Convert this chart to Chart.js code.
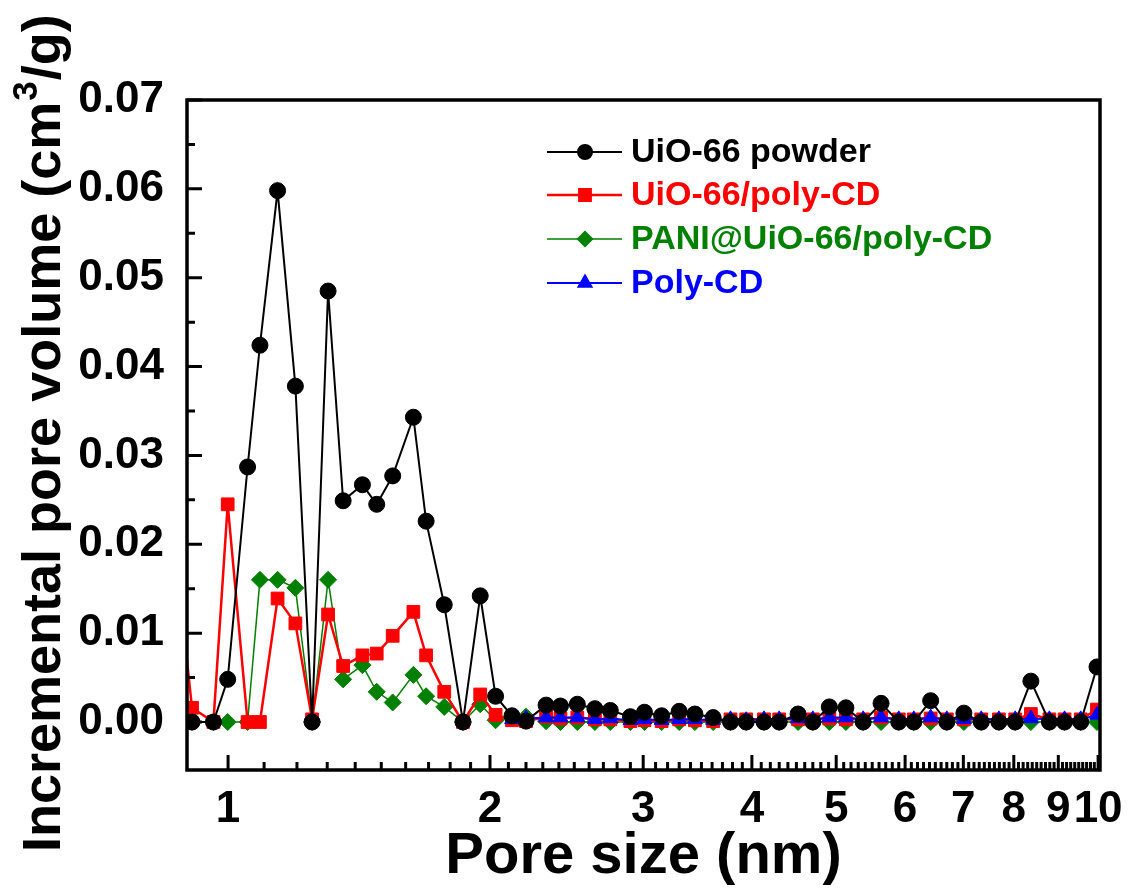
<!DOCTYPE html>
<html>
<head>
<meta charset="utf-8">
<script src="https://cdn.jsdelivr.net/npm/chart.js@4.4.1/dist/chart.umd.min.js"></script>
<style>
  html, body { margin: 0; padding: 0; background: #fff; }
  canvas { display: block; }
</style>
</head>
<body>
<canvas id="psd" width="1129" height="892"></canvas>
<script>
// pore size bins (nm)
const poreSize = [
  0.87, 0.909, 0.962, 0.999, 1.053, 1.088, 1.14, 1.195, 1.249, 1.303,
  1.356, 1.427, 1.482, 1.546, 1.633, 1.689, 1.772, 1.862, 1.949, 2.03,
  2.12, 2.2, 2.32, 2.41, 2.52, 2.64, 2.75, 2.9, 3.01, 3.15,
  3.3, 3.44, 3.61, 3.78, 3.94, 4.13, 4.3, 4.52, 4.7, 4.91,
  5.13, 5.37, 5.63, 5.9, 6.14, 6.42, 6.7, 7.01, 7.34, 7.69,
  8.03, 8.37, 8.79, 9.15, 9.55, 9.97
];

// incremental pore volume (cm3/g)
const uio66Powder = [
  null, 0, 0, 0.0048, 0.0287, 0.0424, 0.0598, 0.0378, 0, 0.0485,
  0.0249, 0.0267, 0.0245, 0.0277, 0.0343, 0.0226, 0.0132, 0, 0.0142, 0.0029,
  0.0007, 0.0001, 0.0019, 0.0018, 0.0020, 0.0015, 0.0013, 0.0006, 0.0011, 0.0007,
  0.0012, 0.0009, 0.0005, 0, 0, 0, 0, 0.0009, 0, 0.0017,
  0.0016, 0, 0.0021, 0, 0, 0.0024, 0, 0.0010, 0, 0,
  0, 0.0046, 0, 0, 0, 0.0062
];
const uio66PolyCD = [
  0.019, 0.0016, 0, 0.0245, 0, 0, 0.0139, 0.0111, 0.0003, 0.0121,
  0.0063, 0.0075, 0.0077, 0.0097, 0.0124, 0.0075, 0.0034, 0, 0.0031, 0.0008,
  0.0002, 0.0001, 0.0006, 0.0004, 0.0005, 0.0003, 0.0003, 0.0001, 0.0002, 0.0001,
  0.0003, 0.0002, 0.0001, 0.0003, 0.0003, 0.0003, 0.0003, 0.0003, 0.0003, 0.0004,
  0.0003, 0.0003, 0.0005, 0.0003, 0.0003, 0.0004, 0.0003, 0.0003, 0.0003, 0.0003,
  0.0003, 0.0009, 0.0003, 0.0003, 0.0003, 0.0014
];
const paniUio66PolyCD = [
  null, 0, 0, 0, 0, 0.0160, 0.0160, 0.0151, 0, 0.0160,
  0.0048, 0.0064, 0.0034, 0.0022, 0.0053, 0.0029, 0.0017, 0, 0.0020, 0.0002,
  0.0005, 0.0006, 0.0001, 0, 0, 0, 0, 0, 0, 0,
  0, 0, 0, 0, 0, 0, 0, 0, 0, 0,
  0, 0, 0, 0, 0, 0, 0, 0, 0, 0,
  0, 0, 0, 0, 0, 0
];
const polyCD = [
  null, null, null, null, null, null, null, null, null, null,
  null, null, null, null, null, null, null, null, null, null,
  0.0003, 0.0004, 0.0005, 0.0005, 0.0005, 0.0003, 0.0004, 0.0002, 0.0003, 0.0002,
  0.0003, 0.0003, 0.0002, 0.0003, 0.0002, 0.0003, 0.0003, 0.0004, 0.0003, 0.0005,
  0.0005, 0.0003, 0.0005, 0.0003, 0.0003, 0.0005, 0.0003, 0.0003, 0.0003, 0.0003,
  0.0003, 0.0004, 0.0003, 0.0003, 0.0003, 0.0008
];

const xTicks = [1, 2, 3, 4, 5, 6, 7, 8, 9, 10];
const yTicks = [0, 0.01, 0.02, 0.03, 0.04, 0.05, 0.06, 0.07];

const FONT = "'Liberation Sans', Arial, sans-serif";

function toPoints(ys) {
  return poreSize.map((x, i) => ({ x: x, y: ys[i] })).filter(p => p.y !== null);
}

const series = [
  { label: 'UiO-66 powder', values: uio66Powder, color: '#000000', width: 2, style: 'circle', r: 8, order: 1 },
  { label: 'UiO-66/poly-CD', values: uio66PolyCD, color: '#ff0000', width: 2.5, style: 'rect', r: 9, order: 3 },
  { label: 'PANI@UiO-66/poly-CD', values: paniUio66PolyCD, color: '#008000', width: 1.5, style: 'rectRot', r: 8.5, order: 4 },
  { label: 'Poly-CD', values: polyCD, color: '#0000ff', width: 2, style: 'triangle', r: 8.5, order: 2 }
];

// frame, inward ticks, y title and legend
const decorations = {
  id: 'decorations',
  afterDatasetsDraw(chart) {
    const ctx = chart.ctx;
    const a = chart.chartArea;
    const xs = chart.scales.x, ys = chart.scales.y;
    ctx.save();
    ctx.strokeStyle = '#000';
    ctx.lineCap = 'butt';

    // ticks
    ctx.lineWidth = 3;
    ctx.beginPath();
    xTicks.forEach(v => {
      const p = xs.getPixelForValue(v);
      ctx.moveTo(p, a.bottom); ctx.lineTo(p, a.bottom - 15);
    });
    for (let i = 11; i < 100; i++) {
      if (i % 10 === 0) continue;
      const p = xs.getPixelForValue(i / 10);
      ctx.moveTo(p, a.bottom); ctx.lineTo(p, a.bottom - 8);
    }
    yTicks.forEach(v => {
      const p = ys.getPixelForValue(v);
      ctx.moveTo(a.left, p); ctx.lineTo(a.left + 15, p);
    });
    for (let k = 0; k < 7; k++) {
      const p = ys.getPixelForValue(0.005 + k * 0.01);
      ctx.moveTo(a.left, p); ctx.lineTo(a.left + 8, p);
    }
    ctx.stroke();

    // frame
    ctx.lineWidth = 3.5;
    ctx.strokeRect(a.left, a.top, a.right - a.left, a.bottom - a.top);

    // y title with superscript
    ctx.save();
    ctx.translate(45, 852);
    ctx.rotate(-Math.PI / 2);
    ctx.fillStyle = '#000';
    ctx.textBaseline = 'middle';
    ctx.textAlign = 'left';
    ctx.font = 'bold 54px ' + FONT;
    let t1 = 'Incremental pore volume (cm';
    ctx.fillText(t1, 0, 0);
    let w = ctx.measureText(t1).width;
    ctx.font = 'bold 35px ' + FONT;
    ctx.fillText('3', w + 1, -18);
    w += ctx.measureText('3').width + 2;
    ctx.font = 'bold 54px ' + FONT;
    ctx.fillText('/g)', w, 0);
    ctx.restore();

    // legend
    const rows = [152, 195, 239, 283];
    series.forEach((s, i) => {
      const y = rows[i];
      ctx.strokeStyle = s.color;
      ctx.fillStyle = s.color;
      ctx.lineWidth = s.width;
      ctx.beginPath();
      ctx.moveTo(547, y); ctx.lineTo(622, y);
      ctx.stroke();
      Chart.helpers.drawPoint(ctx, { pointStyle: s.style, radius: s.r - 1, rotation: 0, borderWidth: 1 }, 585, y);
      ctx.font = 'bold 34px ' + FONT;
      ctx.textAlign = 'left';
      ctx.textBaseline = 'middle';
      ctx.fillText(s.label, 631, y + 1);
    });
    ctx.restore();
  }
};

const ctx = document.getElementById('psd').getContext('2d');
const psdChart = new Chart(ctx, {
  type: 'line',
  data: {
    datasets: series.map(s => ({
      label: s.label,
      data: toPoints(s.values),
      borderColor: s.color,
      backgroundColor: s.color,
      borderWidth: s.width,
      pointStyle: s.style,
      pointRadius: s.r,
      pointBackgroundColor: s.color,
      pointBorderColor: s.color,
      pointBorderWidth: 1,
      tension: 0,
      fill: false,
      clip: 0,
      order: s.order
    }))
  },
  options: {
    responsive: false,
    animation: false,
    events: [],
    layout: { padding: { left: 0, right: 29, top: 100, bottom: 0 } },
    plugins: {
      legend: { display: false },
      tooltip: { enabled: false }
    },
    scales: {
      x: {
        type: 'logarithmic',
        min: 0.897,
        max: 10.05,
        grid: { display: false },
        border: { display: false },
        afterBuildTicks: scale => { scale.ticks = xTicks.map(v => ({ value: v })); },
        afterFit: scale => { scale.height = 122; },
        ticks: {
          autoSkip: false,
          maxRotation: 0,
          padding: 5,
          color: '#000',
          font: { family: FONT, size: 44, weight: 'bold' },
          callback: v => String(v)
        },
        title: {
          display: true,
          text: 'Pore size (nm)',
          color: '#000',
          font: { family: FONT, size: 58, weight: 'bold' },
          padding: { top: 0, bottom: 0 }
        }
      },
      y: {
        min: -0.0054,
        max: 0.07,
        grid: { display: false },
        border: { display: false },
        afterBuildTicks: scale => { scale.ticks = yTicks.map(v => ({ value: v })); },
        afterFit: scale => { scale.width = 187; },
        ticks: {
          padding: 15,
          color: '#000',
          font: { family: FONT, size: 44, weight: 'bold' },
          callback: v => v.toFixed(2)
        }
      }
    }
  },
  plugins: [decorations]
});
</script>
</body>
</html>
